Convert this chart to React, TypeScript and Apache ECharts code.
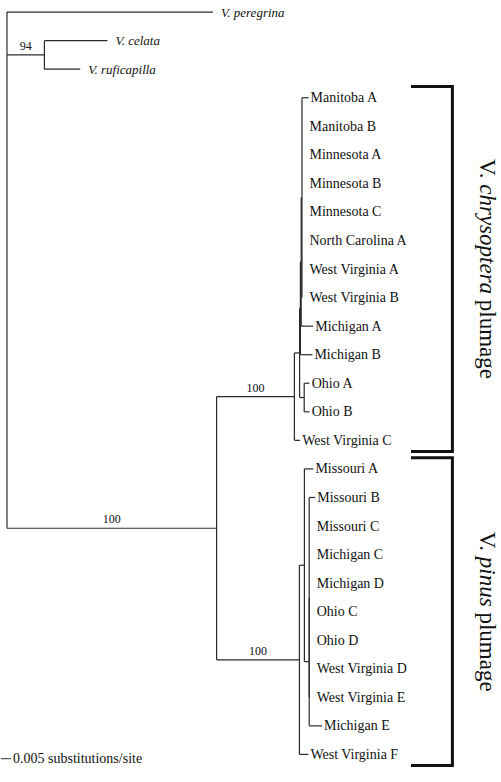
import React, { useEffect, useRef } from 'react';
import * as echarts from 'echarts';

// ---- Data ----
const taxa = [
  'V. peregrina', 'V. celata', 'V. ruficapilla',
  'Manitoba A', 'Manitoba B', 'Minnesota A', 'Minnesota B', 'Minnesota C',
  'North Carolina A', 'West Virginia A', 'West Virginia B', 'Michigan A', 'Michigan B',
  'Ohio A', 'Ohio B', 'West Virginia C',
  'Missouri A', 'Missouri B', 'Missouri C', 'Michigan C', 'Michigan D', 'Ohio C', 'Ohio D',
  'West Virginia D', 'West Virginia E', 'Michigan E', 'West Virginia F',
];
const taxonParents = [
  'root', 'O', 'O',
  'Pa', 'Pa', 'Pa', 'Pa', 'Pa', 'Pa', 'Pa', 'Pa', 'P', 'X',
  'OH', 'OH', 'U',
  'L2', 'L3a', 'L3a', 'L3a', 'L3a', 'L3a', 'L3a', 'L3a', 'L3a', 'L3', 'L',
];
const taxonLengths = [
  0.103, 0.0315, 0.0179,
  0.0033, 0, 0, 0, 0, 0, 0, 0, 0.006, 0.006,
  0.0026, 0.0026, 0.0029,
  0.0045, 0.003, 0, 0, 0, 0, 0, 0, 0, 0.0064, 0.0045,
];
const italicTaxa = ['V. peregrina', 'V. celata', 'V. ruficapilla'];

const nodeIds = ['root', 'O', 'M', 'U', 'S', 'X', 'P', 'Pa', 'OH', 'L', 'L2', 'L3', 'L3a'];
const nodeParents = ['', 'root', 'root', 'M', 'U', 'S', 'X', 'P', 'S', 'M', 'L', 'L2', 'L3'];
const nodeLengths = [0, 0.0187, 0.1048, 0.0389, 0.0026, 0.0004, 0.0004, 0.0004, 0.0023, 0.0414, 0.0025, 0.0024, 0];
const nodeSupport = ['', '94', '100', '100', '', '', '', '', '', '100', '', '', ''];

const groupLabels = [
  ['V. ', 'chrysoptera', ' plumage'],
  ['V. ', 'pinus', ' plumage'],
];
const groupFirstTaxon = ['Manitoba A', 'Missouri A'];
const groupLastTaxon = ['West Virginia C', 'West Virginia F'];

const scaleBarLength = 0.005;
const scaleBarLabel = '0.005 substitutions/site';

// ---- Layout helpers ----
function buildTree() {
  const nodeX: Record<string, number> = {};
  const nodeY: Record<string, number> = {};
  nodeIds.forEach((id, i) => {
    const p = nodeParents[i];
    nodeX[id] = (p ? nodeX[p] : 0) + nodeLengths[i];
  });
  const tipX = taxa.map((_, i) => nodeX[taxonParents[i]] + taxonLengths[i]);
  const childYs: Record<string, number[]> = {};
  taxa.forEach((_, i) => {
    (childYs[taxonParents[i]] = childYs[taxonParents[i]] || []).push(i);
  });
  const span: Record<string, [number, number]> = {};
  for (let k = nodeIds.length - 1; k >= 0; k--) {
    const id = nodeIds[k];
    const ys = childYs[id];
    const lo = Math.min(...ys);
    const hi = Math.max(...ys);
    span[id] = [lo, hi];
    nodeY[id] = (lo + hi) / 2;
    const p = nodeParents[k];
    if (p) (childYs[p] = childYs[p] || []).push(nodeY[id]);
  }
  const segments: number[][] = [];
  nodeIds.forEach((id, k) => {
    segments.push([nodeX[id], span[id][0], nodeX[id], span[id][1]]);
    const p = nodeParents[k];
    if (p && nodeLengths[k] > 0) segments.push([nodeX[p], nodeY[id], nodeX[id], nodeY[id]]);
  });
  taxa.forEach((_, i) => {
    if (taxonLengths[i] > 0) segments.push([nodeX[taxonParents[i]], i, tipX[i], i]);
  });
  const supports: { value: number[]; label: string }[] = [];
  nodeIds.forEach((id, k) => {
    if (nodeSupport[k]) {
      const p = nodeParents[k];
      supports.push({ value: [(nodeX[p] + nodeX[id]) / 2, nodeY[id]], label: nodeSupport[k] });
    }
  });
  const leaves = taxa.map((name, i) => ({ value: [tipX[i], i, nodeX[taxonParents[i]]], name }));
  return { segments, supports, leaves };
}

const SERIF = '"Liberation Serif", "Times New Roman", serif';

export default function App() {
  const ref = useRef<HTMLDivElement>(null);
  useEffect(() => {
    if (!ref.current) return;
    const chart = echarts.init(ref.current, undefined, { renderer: 'svg' });
    const { segments, supports, leaves } = buildTree();
    const brackets = groupLabels.map((_, g) => [
      taxa.indexOf(groupFirstTaxon[g]) - 0.39,
      taxa.indexOf(groupLastTaxon[g]) + 0.39,
    ]);

    const option: any = {
      animation: false,
      grid: { left: 0, right: 0, top: 0, bottom: 0 },
      xAxis: { type: 'value', min: -0.0035, max: 0.247, show: false },
      yAxis: { type: 'value', inverse: true, min: -0.4238, max: 26.966, show: false },
      series: [
        {
          type: 'custom',
          silent: true,
          data: segments,
          renderItem: (_p: any, api: any) => {
            const a = api.coord([api.value(0), api.value(1)]);
            const b = api.coord([api.value(2), api.value(3)]);
            return {
              type: 'line',
              shape: { x1: a[0], y1: a[1], x2: b[0], y2: b[1] },
              style: { stroke: '#2a2a2a', lineWidth: 1.2 },
            };
          },
        },
        {
          type: 'custom',
          silent: true,
          data: leaves,
          renderItem: (params: any, api: any) => {
            const name = taxa[params.dataIndex];
            const tip = api.coord([api.value(0), api.value(1)]);
            const par = api.coord([api.value(2), api.value(1)]);
            const italic = italicTaxa.indexOf(name) >= 0;
            const x = italic ? tip[0] + 8 : Math.max(tip[0] + 2, par[0] + 7.5);
            return {
              type: 'text',
              x,
              y: tip[1],
              style: {
                text: name,
                fill: '#111',
                fontFamily: SERIF,
                fontSize: italic ? 13 : 14,
                fontStyle: italic ? 'italic' : 'normal',
                align: 'left',
                verticalAlign: 'middle',
              },
            };
          },
        },
        {
          type: 'custom',
          silent: true,
          data: supports,
          renderItem: (params: any, api: any) => {
            const c = api.coord([api.value(0), api.value(1)]);
            return {
              type: 'text',
              x: c[0],
              y: c[1] - 3,
              style: {
                text: supports[params.dataIndex].label,
                fill: '#111',
                fontFamily: SERIF,
                fontSize: 12,
                align: 'center',
                verticalAlign: 'bottom',
              },
            };
          },
        },
        {
          type: 'custom',
          silent: true,
          data: brackets,
          renderItem: (params: any, api: any) => {
            const y0 = api.value(0);
            const y1 = api.value(1);
            const p1 = api.coord([0.202, y0]);
            const p2 = api.coord([0.2227, y0]);
            const p3 = api.coord([0.2227, y1]);
            const p4 = api.coord([0.202, y1]);
            const mid = api.coord([0.24, (y0 + y1) / 2]);
            const parts = groupLabels[params.dataIndex];
            return {
              type: 'group',
              children: [
                {
                  type: 'polyline',
                  shape: { points: [p1, p2, p3, p4] },
                  style: { stroke: '#111', lineWidth: 3, fill: 'none' },
                },
                {
                  type: 'text',
                  x: mid[0],
                  y: mid[1],
                  rotation: -Math.PI / 2,
                  style: {
                    text: `{n|${parts[0]}}{i|${parts[1]}}{n|${parts[2]}}`,
                    align: 'center',
                    verticalAlign: 'middle',
                    rich: {
                      n: { fontFamily: SERIF, fontSize: 23, fill: '#111' },
                      i: { fontFamily: SERIF, fontSize: 23, fontStyle: 'italic', fill: '#111' },
                    },
                  },
                },
              ],
            };
          },
        },
        {
          type: 'custom',
          silent: true,
          data: [[-0.003, 26.15]],
          renderItem: (_p: any, api: any) => {
            const a = api.coord([api.value(0), api.value(1)]);
            const b = api.coord([api.value(0) + scaleBarLength, api.value(1)]);
            return {
              type: 'group',
              children: [
                {
                  type: 'line',
                  shape: { x1: a[0], y1: a[1], x2: b[0], y2: b[1] },
                  style: { stroke: '#2a2a2a', lineWidth: 1 },
                },
                {
                  type: 'text',
                  x: b[0] + 2,
                  y: a[1],
                  style: {
                    text: scaleBarLabel,
                    fill: '#111',
                    fontFamily: SERIF,
                    fontSize: 14,
                    align: 'left',
                    verticalAlign: 'middle',
                  },
                },
              ],
            };
          },
        },
      ],
    };
    chart.setOption(option);
    return () => chart.dispose();
  }, []);
  return (
    <div
      ref={ref}
      style={{ position: 'absolute', left: 0, top: 0, width: 501, height: 782, background: '#fff' }}
    />
  );
}
